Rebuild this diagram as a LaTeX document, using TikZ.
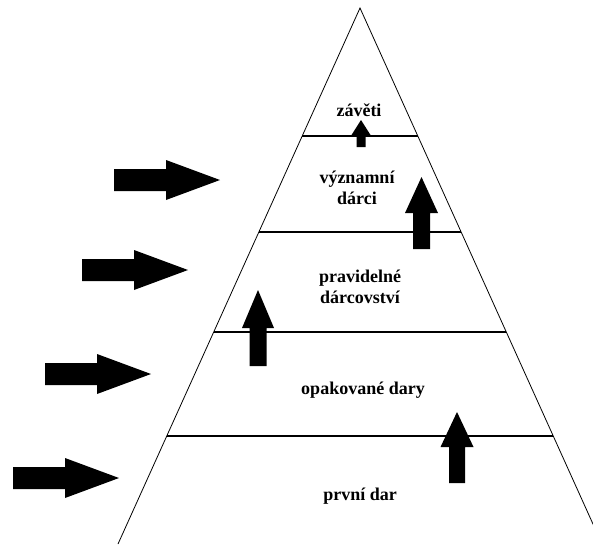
\documentclass[tikz,border=0pt]{standalone}
\usepackage{fontspec}
\setmainfont{Liberation Serif}
\usetikzlibrary{calc}

\begin{document}
\begin{tikzpicture}
[x=1pt,y=-1pt,%
  levelLine/.style={line width=1.6pt},%
  sideLine/.style={line width=0.8pt},%
  labelDecorate/.style={font=\bfseries\fontsize{18}{21.5}\selectfont,align=center,inner sep=0pt},%
  arrowDecorate/.style={fill=black,draw=none}]
\useasboundingbox (0,0) rectangle (593,544);
\clip (0,0) rectangle (593,544);
%% pyramid
\coordinate (apex) at (360,8);
\coordinate (bl) at (118,544);
\coordinate (br) at (602,544);
\draw[sideLine] (bl) -- (apex) -- (br);
%% levels
\foreach \t in {0.239,0.418,0.6045,0.7985}
  \draw[levelLine] ($(apex)!\t!(bl)$) -- ($(apex)!\t!(br)$);
%% level labels
\foreach \nodename/\x/\y/\txt in {
  zaveti/359/110/závěti, vyznamni/357/188/významní\\dárci,
  pravidelne/360/287/pravidelné\\dárcovství, opakovane/363/390/opakované dary,
  prvni/360/496/první dar}
{
  \node[labelDecorate] (\nodename) at (\x,\y) {\txt};
}
%% arrows from outside
\foreach \x/\y in {114/180,82/270,45/374,13/478}
  \fill[arrowDecorate] (\x,\y-11) -- (\x+52,\y-11) -- (\x+52,\y-20)
    -- (\x+106,\y) -- (\x+52,\y+20) -- (\x+52,\y+11) -- (\x,\y+11) -- cycle;
%% arrows going up
\foreach \cx/\tip/\hb/\bot/\hh/\hs in {
  361/120/135/147/9.5/4.5, 421.5/177/213/249/16.5/8.5,
  258/290/328/366/16/8.5, 457/412/447/483/16.5/8}
  \fill[arrowDecorate] (\cx-\hs,\bot) -- (\cx-\hs,\hb) -- (\cx-\hh,\hb) -- (\cx,\tip)
    -- (\cx+\hh,\hb) -- (\cx+\hs,\hb) -- (\cx+\hs,\bot) -- cycle;
\end{tikzpicture}
\end{document}
